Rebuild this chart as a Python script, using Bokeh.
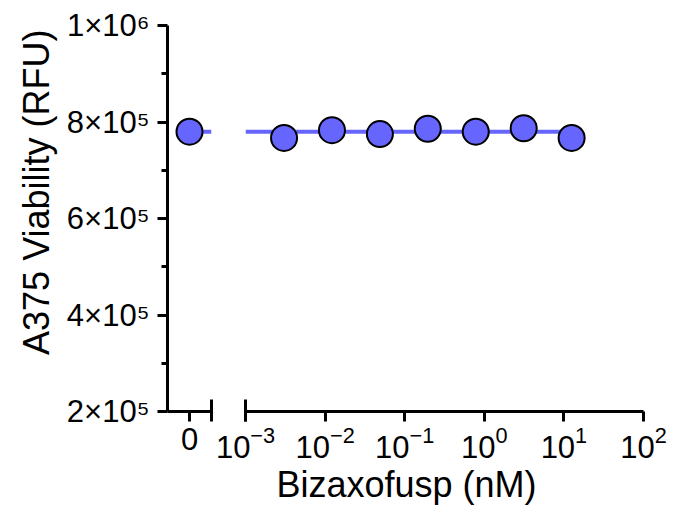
from bokeh.plotting import figure
from bokeh.layouts import row
from bokeh.models import Range1d, FixedTicker, LogTickFormatter, Title
from bokeh.embed import file_html
from bokeh.resources import INLINE

# ---- data ----
conc = [0.00305, 0.0122, 0.0488, 0.195, 0.781, 3.125, 12.5]          # nM
rfu = [767000, 783000, 775000, 786000, 780000, 787000, 767000]
zero_conc = [0]
zero_rfu = [780000]
fit_level = 780000
y_ticks = [200000, 400000, 600000, 800000, 1000000]
y_minor_ticks = [300000, 500000, 700000, 900000]
y_tick_labels = ["2×10⁵", "4×10⁵", "6×10⁵", "8×10⁵", "1×10⁶"]
x_ticks = [1e-3, 1e-2, 1e-1, 1e0, 1e1, 1e2]
zero_ticks = [0]
zero_tick_labels = ["0"]

FONT = "Liberation Sans"
COLOR = "#6666FF"
H = 512
TOP, BOTTOM = 25, 101
Y0, Y1 = 2e5, 1e6


def style_common(p):
    p.outline_line_color = None
    p.xgrid.visible = False
    p.ygrid.visible = False
    p.background_fill_color = "white"
    p.border_fill_color = "white"


def style_axis(ax):
    ax.axis_line_width = 3
    ax.axis_line_color = "black"
    ax.major_tick_line_width = 3
    ax.minor_tick_line_width = 3
    ax.major_tick_line_color = "black"
    ax.minor_tick_line_color = "black"
    ax.major_label_text_font = FONT
    ax.major_label_text_font_size = "31px"
    ax.major_label_text_color = "black"


def make_title(text, **kw):
    return Title(text=text, text_font=FONT, text_font_size="36px",
                 text_font_style="normal", text_color="black", **kw)


# ---- left panel: zero dose ----
p0 = figure(width=213, height=H, x_range=Range1d(-1, 1), y_range=Range1d(Y0, Y1),
            output_backend="svg", toolbar_location=None,
            min_border_left=167, min_border_right=2,
            min_border_top=TOP, min_border_bottom=BOTTOM)
style_common(p0)

yax = p0.yaxis[0]
style_axis(yax)
yax.ticker = FixedTicker(ticks=y_ticks, minor_ticks=y_minor_ticks)
yax.major_label_overrides = {t: lab for t, lab in zip(y_ticks, y_tick_labels)}
yax.major_tick_in = 0
yax.major_tick_out = 10
yax.minor_tick_in = 0
yax.minor_tick_out = 6
yax.major_label_standoff = 8

p0.add_layout(make_title("A375 Viability (RFU)", align="right", offset=4, standoff=14), "left")

xax0 = p0.xaxis[0]
style_axis(xax0)
xax0.ticker = FixedTicker(ticks=zero_ticks, minor_ticks=[p0.x_range.end])
xax0.major_label_overrides = {t: lab for t, lab in zip(zero_ticks, zero_tick_labels)}
xax0.major_tick_in = 0
xax0.major_tick_out = 10
xax0.minor_tick_in = 12
xax0.minor_tick_out = 10
xax0.major_label_standoff = 6

p0.line([zero_conc[0], p0.x_range.end], [fit_level, fit_level], line_color=COLOR, line_width=4)
p0.scatter(zero_conc, zero_rfu, size=26, fill_color=COLOR, line_color="black", line_width=2)

# ---- right panel: log doses ----
p1 = figure(width=464, height=H, x_axis_type="log", x_range=Range1d(x_ticks[0], x_ticks[-1]),
            y_range=Range1d(Y0, Y1), y_axis_location=None,
            output_backend="svg", toolbar_location=None,
            min_border_left=32, min_border_right=34,
            min_border_top=TOP, min_border_bottom=BOTTOM)
style_common(p1)

xax1 = p1.xaxis[0]
style_axis(xax1)
xax1.ticker = FixedTicker(ticks=x_ticks, minor_ticks=[x_ticks[0]])
xax1.formatter = LogTickFormatter()
xax1.major_tick_in = 0
xax1.major_tick_out = 10
xax1.minor_tick_in = 12
xax1.minor_tick_out = 10
xax1.major_label_standoff = 4

p1.line([p1.x_range.start, conc[-1]], [fit_level, fit_level], line_color=COLOR, line_width=4)
p1.scatter(conc, rfu, size=26, fill_color=COLOR, line_color="black", line_width=2)

p1.add_layout(make_title("Bizaxofusp (nM)", align="left", offset=31, standoff=2), "below")

layout = row(p0, p1)
open("out.html", "w").write(file_html(layout, INLINE))
